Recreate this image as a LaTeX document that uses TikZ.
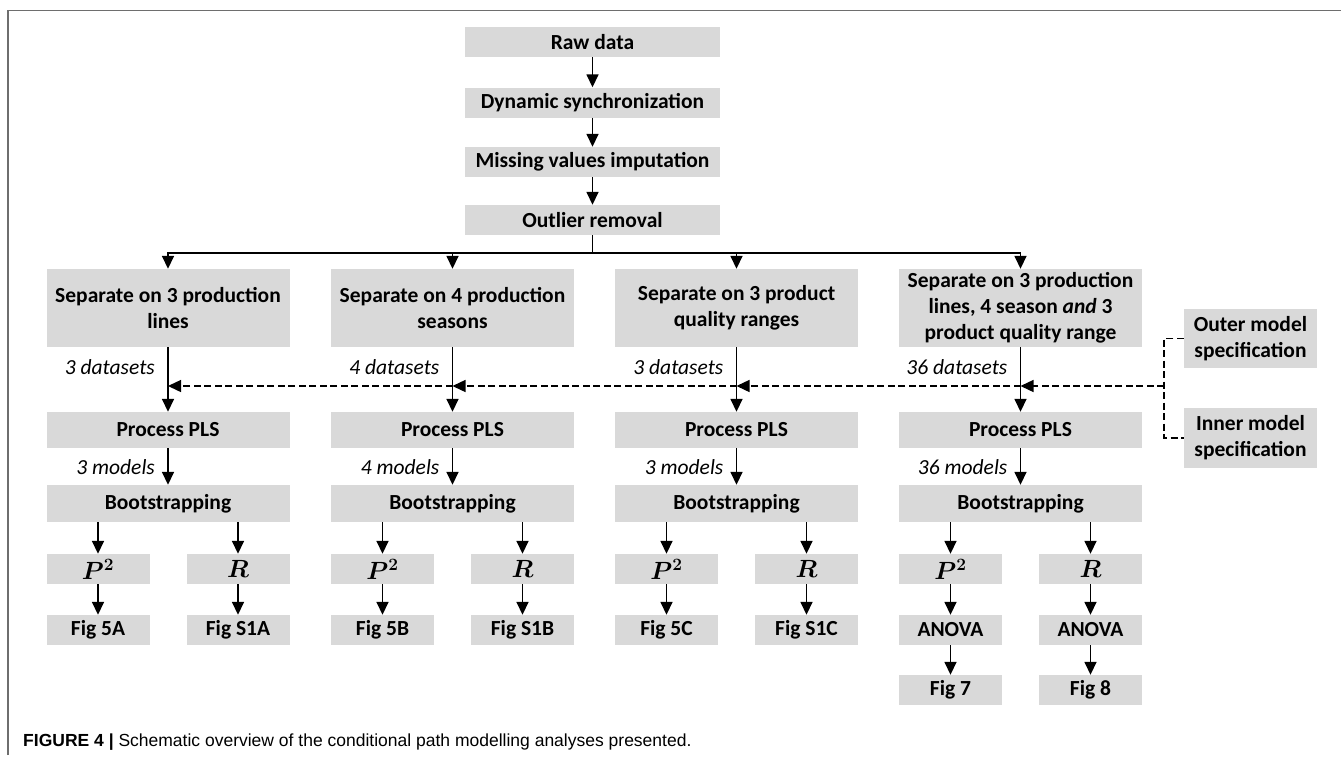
\documentclass[tikz,border=0pt]{standalone}
\usepackage{fontspec}
\setmainfont{Carlito}
\newfontfamily\capfont{Liberation Sans}
\usetikzlibrary{arrows.meta}
\definecolor{boxgray}{RGB}{217,217,217}
\definecolor{framegray}{RGB}{110,110,110}
\tikzset{
  box/.style={fill=boxgray, inner sep=0pt, align=center, font=\fontsize{21.5}{26}\selectfont\bfseries},
  small/.style={fill=boxgray, inner sep=0pt, align=center, minimum width=103pt, minimum height=30pt, font=\fontsize{21.5}{26}\selectfont\bfseries},
  lbl/.style={inner sep=0pt, anchor=east, font=\fontsize{21.5}{26}\selectfont\itshape},
  arr/.style={line width=1.6pt, -{Triangle[width=12pt,length=13pt]}},
  conn/.style={line width=1.6pt},
  dline/.style={line width=1.4pt, dash pattern=on 7pt off 3.5pt},
  darr/.style={line width=1.4pt, dash pattern=on 7pt off 3.5pt, -{Triangle[width=12pt,length=13pt]}},
}
\newcommand{\Psq}{{\fontsize{26}{28}\selectfont\boldmath$P^2$}}
\newcommand{\Rsym}{{\fontsize{26}{28}\selectfont\boldmath$R$}}
\begin{document}
\begin{tikzpicture}[x=1pt,y=-1pt]
\useasboundingbox (0,0) rectangle (1341,766);
% frame
\draw[framegray, line width=1.5pt] (8,755) -- (8,10.5) -- (1341,10.5);
% top chain
\node[box, minimum width=255pt, minimum height=30pt] (raw) at (592.5,42) {Raw data};
\node[box, minimum width=255pt, minimum height=30pt] (dyn) at (592.5,102.5) {Dynamic synchronization};
\node[box, minimum width=255pt, minimum height=30pt] (miss) at (592.5,162) {Missing values imputation};
\node[box, minimum width=255pt, minimum height=30pt] (outl) at (592.5,220) {Outlier removal};
\draw[arr] (raw) -- (dyn);
\draw[arr] (dyn) -- (miss);
\draw[arr] (miss) -- (outl);
% separate boxes
\node[box, minimum width=243pt, minimum height=78pt] (sep1) at (168,308) {Separate on 3 production\\lines};
\node[box, minimum width=243pt, minimum height=78pt] (sep2) at (452.5,308) {Separate on 4 production\\seasons};
\node[box, minimum width=243pt, minimum height=78pt] (sep3) at (736.5,308) {Separate on 3 product\\quality ranges};
\node[box, minimum width=243pt, minimum height=78pt] (sep4) at (1020.5,308) {Separate on 3 production\\lines, 4 season \textit{and} 3\\product quality range};
\coordinate (split) at (592.5,253);
\draw[conn] (outl.south) -- (split);
\draw[arr] (split) -| (sep1.north);
\draw[arr] (split) -| (sep2.north);
\draw[arr] (split) -| (sep3.north);
\draw[arr] (split) -| (sep4.north);
% specification boxes
\node[box, minimum width=133pt, minimum height=59pt] (outer) at (1250.5,338.5) {Outer model\\specification};
\node[box, minimum width=133pt, minimum height=60pt] (inner) at (1250.5,438) {Inner model\\specification};
\coordinate (jn) at (1164,386);
\draw[dline] (outer.west) -| (jn) |- (inner.west);
% process PLS
\foreach \i/\x in {1/168,2/452.5,3/736.5,4/1020.5}{
  \node[box, minimum width=243pt, minimum height=36pt] (pls\i) at (\x,430) {Process PLS};
  \node[box, minimum width=243pt, minimum height=37pt] (boot\i) at (\x,503.5) {Bootstrapping};
  \coordinate (d\i) at (\x,386);
  \draw[arr] (sep\i.south) -- (pls\i.north);
  \draw[arr] (pls\i.south) -- (boot\i.north);
}
\draw[darr] (jn) -- (d4);
\draw[darr] (d4) -- (d3);
\draw[darr] (d3) -- (d2);
\draw[darr] (d2) -- (d1);
% labels
\node[lbl] (ld1) at (155,367) {3 datasets};
\node[lbl] (ld2) at (439.5,367) {4 datasets};
\node[lbl] (ld3) at (723.5,367) {3 datasets};
\node[lbl] (ld4) at (1007.5,367) {36 datasets};
\node[lbl] (lm1) at (155,467) {3 models};
\node[lbl] (lm2) at (439.5,467) {4 models};
\node[lbl] (lm3) at (723.5,467) {3 models};
\node[lbl] (lm4) at (1007.5,467) {36 models};
% P2 and R boxes
\node[small] (p1) at (98,569) {\Psq};
\node[small] (r1) at (238,569) {\Rsym};
\node[small] (p2) at (382.5,569) {\Psq};
\node[small] (r2) at (522.5,569) {\Rsym};
\node[small] (p3) at (666.5,569) {\Psq};
\node[small] (r3) at (806.5,569) {\Rsym};
\node[small] (p4) at (950.5,569) {\Psq};
\node[small] (r4) at (1090.5,569) {\Rsym};
\draw[arr] (boot1.south -| p1) -- (p1.north);
\draw[arr] (boot1.south -| r1) -- (r1.north);
\draw[arr] (boot2.south -| p2) -- (p2.north);
\draw[arr] (boot2.south -| r2) -- (r2.north);
\draw[arr] (boot3.south -| p3) -- (p3.north);
\draw[arr] (boot3.south -| r3) -- (r3.north);
\draw[arr] (boot4.south -| p4) -- (p4.north);
\draw[arr] (boot4.south -| r4) -- (r4.north);
\node[small] (f5a) at (98,630) {Fig 5A};
\node[small] (fs1a) at (238,630) {Fig S1A};
\node[small] (f5b) at (382.5,630) {Fig 5B};
\node[small] (fs1b) at (522.5,630) {Fig S1B};
\node[small] (f5c) at (666.5,630) {Fig 5C};
\node[small] (fs1c) at (806.5,630) {Fig S1C};
\node[small] (an1) at (950.5,630) {ANOVA};
\node[small] (an2) at (1090.5,630) {ANOVA};
\node[small] (f7) at (950.5,690) {Fig 7};
\node[small] (f8) at (1090.5,690) {Fig 8};
\draw[arr] (p1) -- (f5a);
\draw[arr] (r1) -- (fs1a);
\draw[arr] (p2) -- (f5b);
\draw[arr] (r2) -- (fs1b);
\draw[arr] (p3) -- (f5c);
\draw[arr] (r3) -- (fs1c);
\draw[arr] (p4) -- (an1);
\draw[arr] (r4) -- (an2);
\draw[arr] (an1) -- (f7);
\draw[arr] (an2) -- (f8);
% caption
\node[anchor=west, inner sep=0pt] (cap) at (23,742) {\capfont\fontsize{17.5}{20}\selectfont\textbf{FIGURE 4 |} Schematic overview of the conditional path modelling analyses presented.};
\end{tikzpicture}
\end{document}
